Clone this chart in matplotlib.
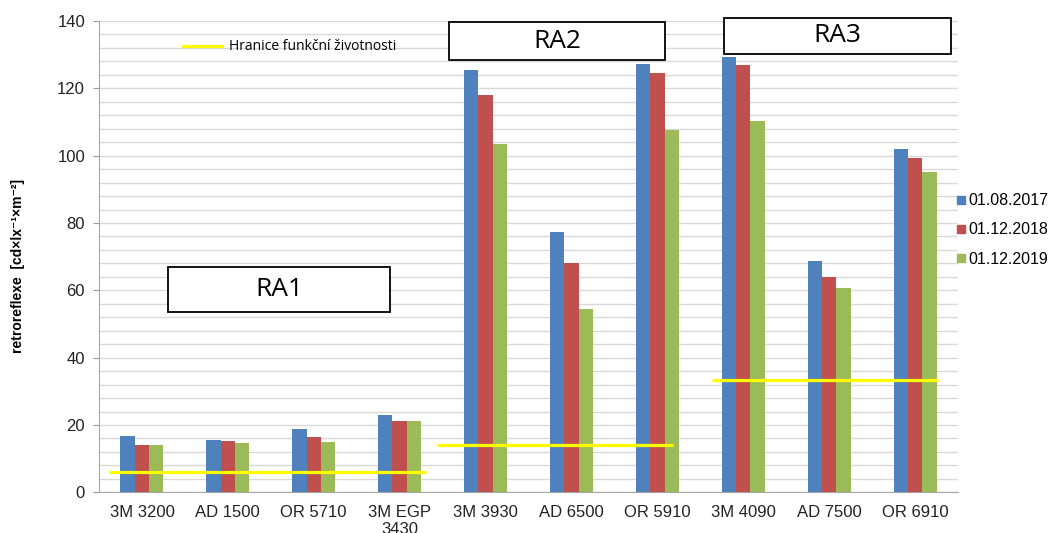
import numpy as np
import matplotlib.pyplot as plt
from matplotlib.lines import Line2D
from matplotlib.patches import Rectangle
from matplotlib.ticker import MultipleLocator

plt.rcParams['font.family'] = ['Liberation Sans', 'DejaVu Sans']

# data
products = ['3M 3200', 'AD 1500', 'OR 5710', '3M EGP\n3430', '3M 3930',
            'AD 6500', 'OR 5910', '3M 4090', 'AD 7500', 'OR 6910']
dates = ['01.08.2017', '01.12.2018', '01.12.2019']
v_2017 = [16.8, 15.5, 18.7, 23.0, 125.5, 77.3, 127.1, 129.3, 68.6, 102.0]
v_2018 = [14.0, 15.2, 16.4, 21.2, 118.1, 68.1, 124.7, 127.0, 64.0, 99.2]
v_2019 = [14.0, 14.5, 15.0, 21.2, 103.5, 54.5, 107.7, 110.3, 60.6, 95.0]

classes = ['RA1', 'RA2', 'RA3']
class_first = [0, 4, 7]
class_last = [3, 6, 9]
limit_values = [6.0, 14.0, 33.5]
limit_label = 'Hranice funkční životnosti'

colors = ['#4F81BD', '#C0504D', '#9BBB59']
yellow = '#FFFF00'

fig = plt.figure(figsize=(10.56, 5.33), dpi=100)
W, H = 1056, 533
ax = fig.add_axes([99 / W, (H - 492.3) / H, 859 / W, 471.3 / H])

x = np.arange(len(products))
bw = 0.167
for i, (vals, c, lab) in enumerate(zip([v_2017, v_2018, v_2019], colors, dates)):
    ax.bar(x + (i - 1) * bw, vals, bw, color=c, label=lab, zorder=3)

# limit lines per class
spans = [(-0.38, 0.31), (-0.57, 0.18), (-0.36, 0.27)]
for f, l, v, (a, b) in zip(class_first, class_last, limit_values, spans):
    ax.plot([f + a, l + b], [v, v], color=yellow, lw=2.3, zorder=4,
            solid_capstyle='butt')

ax.set_xlim(-0.5, len(products) - 0.5)
ax.set_ylim(0, 140)
ax.yaxis.set_major_locator(MultipleLocator(20))
ax.yaxis.set_minor_locator(MultipleLocator(4))
ax.grid(which='both', axis='y', color='#d9d9d9', lw=1, zorder=0)
ax.set_axisbelow(True)
ax.set_xticks(x)
ax.set_xticklabels(products, fontsize=12, color='#222222', linespacing=1.15)
ax.tick_params(axis='x', length=0, pad=9)
ax.tick_params(axis='y', which='major', length=4, color='#999999',
               labelsize=12, labelcolor='#222222', pad=6)
ax.tick_params(axis='y', which='minor', length=0)
for s in ['top', 'right']:
    ax.spines[s].set_visible(False)
for s in ['left', 'bottom']:
    ax.spines[s].set_color('#a6a6a6')

fig.text(18 / W, 1 - 266 / H, 'retroreflexe  [cd×lx⁻¹×m⁻²]',
         rotation=90, fontsize=10, fontweight='bold', ha='center', va='center')

# class boxes (figure pixels)
boxes = [(168, 267, 390, 312), (449, 22, 665, 60), (724, 18, 951, 54)]
for name, (x0, y0, x1, y1) in zip(classes, boxes):
    fig.patches.append(Rectangle((x0 / W, 1 - y1 / H), (x1 - x0) / W, (y1 - y0) / H,
                                 transform=fig.transFigure, facecolor='white',
                                 edgecolor='black', lw=1.3, zorder=5))
    fig.text((x0 + x1) / 2 / W, 1 - (y0 + y1) / 2 / H, name, fontsize=19,
             family=['Open Sans', 'DejaVu Sans'], ha='center', va='center', zorder=6)

h_dates = [Line2D([], [], ls='none', marker='s', markersize=6, color=c) for c in colors]
leg1 = fig.legend(h_dates, dates, loc='center left', bbox_to_anchor=(957 / W, 1 - 230 / H),
                  frameon=False, fontsize=11.5, handlelength=0.5, handletextpad=0.2,
                  labelspacing=0.9, borderaxespad=0, borderpad=0)
h_lim = [Line2D([], [], color=yellow, lw=2.3)]
ax.legend(h_lim, [limit_label], loc='center left', bbox_to_anchor=(183 / W, 1 - 47 / H),
          bbox_transform=fig.transFigure, frameon=False,
          prop={'family': ['Open Sans', 'DejaVu Sans'], 'size': 10},
          handlelength=2.8, handletextpad=0.5, borderaxespad=0, borderpad=0)

fig.savefig('out.png', dpi=100)
